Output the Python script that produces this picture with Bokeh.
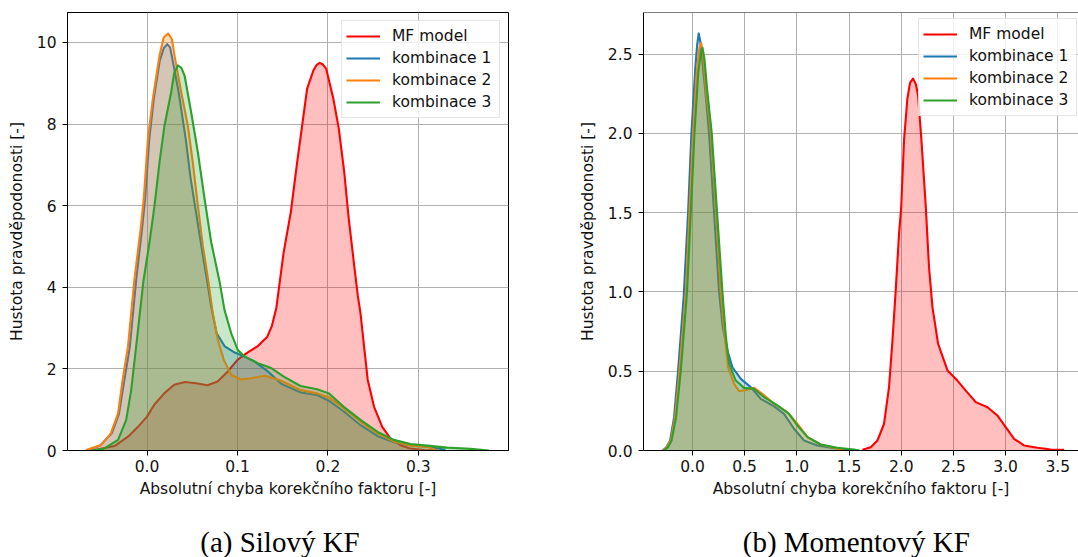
from bokeh.plotting import figure
from bokeh.models import (Range1d, FixedTicker, NumeralTickFormatter, Legend,
                          LegendItem, Span)
from bokeh.core.properties import value
from bokeh.layouts import row, column
from bokeh.embed import file_html
from bokeh.resources import INLINE

# ---------------- data: panel (a) Silový KF ----------------
a_mf_x = [-0.062, -0.054, -0.036, -0.021, -0.010, 0.0, 0.008, 0.019, 0.030, 0.042, 0.054,
          0.067, 0.078, 0.089, 0.100, 0.111, 0.122, 0.133, 0.138, 0.143, 0.151, 0.159,
          0.166, 0.172, 0.177, 0.184, 0.1875, 0.191, 0.1945, 0.198, 0.206, 0.212, 0.218,
          0.223, 0.229, 0.233, 0.236, 0.240, 0.244, 0.251, 0.260, 0.269, 0.280, 0.291,
          0.306, 0.318]
a_mf_y = [0.0, 0.03, 0.11, 0.34, 0.58, 0.83, 1.12, 1.40, 1.61, 1.68, 1.65,
          1.60, 1.69, 1.93, 2.22, 2.40, 2.55, 2.79, 3.05, 3.50, 4.85, 5.85,
          7.07, 8.05, 8.87, 9.32, 9.45, 9.50, 9.46, 9.36, 8.62, 7.89, 6.83,
          5.68, 4.54, 3.80, 3.36, 2.54, 1.73, 1.07, 0.58, 0.30, 0.13, 0.05,
          0.01, 0.0]

a_k1_x = [-0.066, -0.052, -0.039, -0.031, -0.025, -0.019, -0.012, -0.0055, -0.002, 0.0025,
          0.0075, 0.014, 0.0185, 0.0223, 0.0255, 0.028, 0.035, 0.043, 0.048, 0.053, 0.060,
          0.0667, 0.071, 0.077, 0.086, 0.097, 0.108, 0.119, 0.134, 0.148, 0.170, 0.188,
          0.201, 0.218, 0.236, 0.255, 0.273, 0.291, 0.310, 0.330]
a_k1_y = [0.0, 0.12, 0.42, 0.90, 1.73, 2.55, 4.18, 5.44, 6.2, 7.64,
          8.62, 9.55, 9.86, 9.96, 9.88, 9.60, 8.78, 7.60, 6.70, 6.00, 5.02,
          4.12, 3.52, 2.87, 2.55, 2.40, 2.30, 2.18, 1.93, 1.64, 1.42, 1.36,
          1.22, 0.95, 0.62, 0.35, 0.20, 0.13, 0.09, 0.02]

a_k2_x = [-0.068, -0.065, -0.051, -0.040, -0.032, -0.027, -0.021, -0.014, -0.007, -0.0035,
          0.001, 0.0064, 0.0138, 0.0185, 0.0234, 0.0275, 0.0304, 0.0378, 0.0451, 0.0506,
          0.0562, 0.0617, 0.068, 0.0727, 0.0783, 0.0849, 0.0931, 0.1041, 0.1152, 0.1299,
          0.1446, 0.1512, 0.170, 0.188, 0.201, 0.218, 0.236, 0.255, 0.273, 0.291, 0.310,
          0.321]
a_k2_y = [0.0, 0.03, 0.13, 0.42, 0.91, 1.73, 2.55, 4.18, 5.44, 6.2,
          7.64, 8.62, 9.68, 10.12, 10.22, 10.08, 9.68, 8.78, 7.96, 7.06,
          6.0, 5.02, 4.12, 3.36, 2.71, 2.22, 1.85, 1.74, 1.77, 1.83,
          1.74, 1.68, 1.48, 1.40, 1.30, 1.03, 0.71, 0.42, 0.22, 0.12, 0.09,
          0.0]

a_k3_x = [-0.060, -0.047, -0.032, -0.023, -0.0175, -0.012, -0.004, 0.0028, 0.0083, 0.0138,
          0.0193, 0.0267, 0.030, 0.0341, 0.038, 0.0415, 0.0488, 0.0562, 0.0636, 0.0709,
          0.0801, 0.0857, 0.0931, 0.1004, 0.1081, 0.1225, 0.1373, 0.1512, 0.1697, 0.1881,
          0.201, 0.2175, 0.236, 0.2545, 0.2728, 0.2913, 0.3097, 0.3318, 0.3576, 0.378]
a_k3_y = [0.0, 0.05, 0.26, 0.75, 1.48, 2.55, 4.15, 5.11, 6.0, 7.06,
          7.96, 8.78, 9.25, 9.44, 9.38, 9.19, 8.29, 7.31, 6.17, 5.11,
          4.15, 3.44, 2.87, 2.46, 2.30, 2.14, 2.02, 1.81, 1.58, 1.50,
          1.40, 1.07, 0.75, 0.46, 0.26, 0.16, 0.12, 0.07, 0.04, 0.0]

# ---------------- data: panel (b) Momentový KF ----------------
b_mf_x = [1.628, 1.708, 1.772, 1.835, 1.883, 1.916, 1.947, 1.979, 2.0, 2.027, 2.059, 2.085,
          2.113, 2.140, 2.161, 2.193, 2.235, 2.266, 2.299, 2.353, 2.443, 2.538, 2.618, 2.714,
          2.826, 2.921, 3.001, 3.081, 3.176, 3.305, 3.432, 3.56]
b_mf_y = [0.004, 0.021, 0.063, 0.168, 0.40, 0.694, 1.01, 1.366, 1.54, 1.96, 2.22, 2.32,
          2.345, 2.31, 2.24, 1.96, 1.54, 1.156, 0.904, 0.673, 0.505, 0.441, 0.378, 0.305,
          0.273, 0.221, 0.147, 0.074, 0.032, 0.017, 0.006, 0.004]

b_k1_x = [-0.287, -0.25, -0.214, -0.176, -0.138, -0.084, -0.042, -0.010, 0.028, 0.045,
          0.060, 0.075, 0.100, 0.130, 0.159, 0.207, 0.255, 0.290, 0.335, 0.383, 0.463,
          0.558, 0.654, 0.782, 0.877, 0.973, 1.069, 1.197, 1.356, 1.485, 1.55]
b_k1_y = [0.0, 0.02, 0.063, 0.21, 0.5, 0.97, 1.5, 2.0, 2.42, 2.56,
          2.63, 2.58, 2.42, 2.22, 2.0, 1.5, 1.0, 0.78, 0.63, 0.525, 0.452,
          0.40, 0.326, 0.278, 0.231, 0.137, 0.063, 0.032, 0.015, 0.006, 0.0]

b_k2_x = [-0.283, -0.245, -0.205, -0.165, -0.125, -0.063, -0.029, 0.006, 0.040, 0.065,
          0.083, 0.100, 0.125, 0.175, 0.226, 0.271, 0.300, 0.341, 0.399, 0.447, 0.511,
          0.590, 0.670, 0.782, 0.910, 1.006, 1.102, 1.229, 1.356, 1.45]
b_k2_y = [0.0, 0.02, 0.07, 0.22, 0.5, 1.0, 1.5, 2.0, 2.38, 2.53,
          2.57, 2.50, 2.30, 2.0, 1.5, 1.0, 0.78, 0.525, 0.42, 0.374, 0.382,
          0.395, 0.357, 0.294, 0.242, 0.168, 0.084, 0.038, 0.017, 0.0]

b_k3_x = [-0.275, -0.235, -0.200, -0.157, -0.112, -0.052, -0.016, 0.019, 0.055, 0.080,
          0.096, 0.115, 0.140, 0.185, 0.236, 0.287, 0.320, 0.351, 0.415, 0.494, 0.590,
          0.686, 0.814, 0.925, 1.006, 1.102, 1.229, 1.388, 1.548, 1.60]
b_k3_y = [0.0, 0.02, 0.063, 0.21, 0.5, 1.0, 1.5, 2.0, 2.38, 2.51,
          2.54, 2.47, 2.28, 2.0, 1.5, 1.0, 0.72, 0.546, 0.441, 0.395, 0.389,
          0.336, 0.284, 0.231, 0.157, 0.084, 0.038, 0.017, 0.006, 0.0]

series_labels = ["MF model", "kombinace 1", "kombinace 2", "kombinace 3"]
series_colors = ["#ff0000", "#1f77b4", "#ff7f0e", "#2ca02c"]

a_xticks = [0.0, 0.1, 0.2, 0.3]
a_yticks = [0, 2, 4, 6, 8, 10]
b_xticks = [0.0, 0.5, 1.0, 1.5, 2.0, 2.5, 3.0, 3.5]
b_yticks = [0.0, 0.5, 1.0, 1.5, 2.0, 2.5]

captions = ["(a) Silový KF", "(b) Momentový KF"]
x_label = "Absolutní chyba korekčního faktoru [-]"
y_label = "Hustota pravděpodonosti [-]"

FONT = "DejaVu Sans"
FS = "15.5px"
TXT = "#111111"
W = 539
H_MAIN = 517
H_CAP = 40


def build(series, xr, yr, xticks, yticks, xfmt, yfmt, border_left,
          border_right, legend_loc, outline):
    p = figure(width=W, height=H_MAIN, output_backend="svg", toolbar_location=None,
               x_range=Range1d(*xr), y_range=Range1d(*yr),
               min_border_left=border_left, min_border_right=border_right,
               min_border_top=12, min_border_bottom=H_MAIN - 450)
    p.background_fill_color = "white"
    p.border_fill_color = "white"

    items = []
    for (xs, ys), lab, col in zip(series, series_labels, series_colors):
        p.varea(x=xs, y1=[0] * len(xs), y2=ys, fill_color=col, fill_alpha=0.25)
        r = p.line(xs, ys, line_color=col, line_width=2.1, line_join="round")
        items.append(LegendItem(label=lab, renderers=[r]))

    p.xaxis.ticker = FixedTicker(ticks=xticks)
    p.yaxis.ticker = FixedTicker(ticks=yticks)
    p.xaxis.formatter = NumeralTickFormatter(format=xfmt)
    p.yaxis.formatter = NumeralTickFormatter(format=yfmt)
    p.xaxis.axis_label = x_label
    p.yaxis.axis_label = y_label
    for ax in (p.xaxis, p.yaxis):
        ax.major_label_text_font = FONT
        ax.major_label_text_font_size = FS
        ax.major_label_text_color = TXT
        ax.axis_label_text_font = FONT
        ax.axis_label_text_font_size = FS
        ax.axis_label_text_font_style = "normal"
        ax.axis_label_text_color = TXT
        ax.major_tick_out = 5
        ax.major_tick_in = 0
        ax.minor_tick_out = 0
        ax.minor_tick_in = 0
        ax.major_tick_line_color = "black"
        ax.axis_line_color = "black"
    p.xaxis.major_label_standoff = 4
    p.yaxis.major_label_standoff = 6
    p.xaxis.axis_label_standoff = 5
    p.yaxis.axis_label_standoff = 8

    p.grid.grid_line_color = "#b0b0b0"
    p.grid.grid_line_width = 1

    if outline:
        p.outline_line_color = "black"
        p.outline_line_width = 1
    else:
        p.outline_line_color = None
        p.add_layout(Span(location=yr[1], dimension="width", line_color="black",
                          line_width=1))

    legend = Legend(items=items, location=legend_loc)
    legend.label_text_font = FONT
    legend.label_text_font_size = FS
    legend.label_text_color = TXT
    legend.glyph_width = 34
    legend.glyph_height = 22
    legend.label_height = 22
    legend.label_width = 103
    legend.label_standoff = 12
    legend.spacing = 0
    legend.padding = 4
    legend.margin = 8
    legend.border_line_color = "#cccccc"
    legend.border_line_width = 1
    legend.background_fill_color = "white"
    legend.background_fill_alpha = 0.8
    p.add_layout(legend)
    return p


def caption_fig(text, cx):
    c = figure(width=W, height=H_CAP, output_backend="svg", toolbar_location=None,
               title=None, x_range=Range1d(0, W), y_range=Range1d(0, H_CAP),
               min_border=0, min_border_top=0, min_border_bottom=0,
               min_border_left=0, min_border_right=0,
               x_axis_type=None, y_axis_type=None)
    c.grid.visible = False
    c.outline_line_color = None
    c.background_fill_color = "white"
    c.border_fill_color = "white"
    c.text(x=[cx], y=[15.5], text=[text], text_font=value("Liberation Serif"),
           text_font_size="29px", text_color="black", text_align="center",
           text_baseline="alphabetic")
    return c


pa = build([(a_mf_x, a_mf_y), (a_k1_x, a_k1_y), (a_k2_x, a_k2_y), (a_k3_x, a_k3_y)],
           (-0.0879, 0.3996), (0, 10.735), a_xticks, a_yticks, "0.0", "0",
           67, 31, "top_right", True)
pb = build([(b_mf_x, b_mf_y), (b_k1_x, b_k1_y), (b_k2_x, b_k2_y), (b_k3_x, b_k3_y)],
           (-0.469, 3.698), (0, 2.762), b_xticks, b_yticks, "0.0", "0.0",
           104, 0, (275, 334), False)
ca = caption_fig(captions[0], 279.5)
cb = caption_fig(captions[1], 316.8)

layout = column(row(pa, pb, spacing=0), row(ca, cb, spacing=0), spacing=0)
open("out.html", "w").write(file_html(layout, INLINE))
